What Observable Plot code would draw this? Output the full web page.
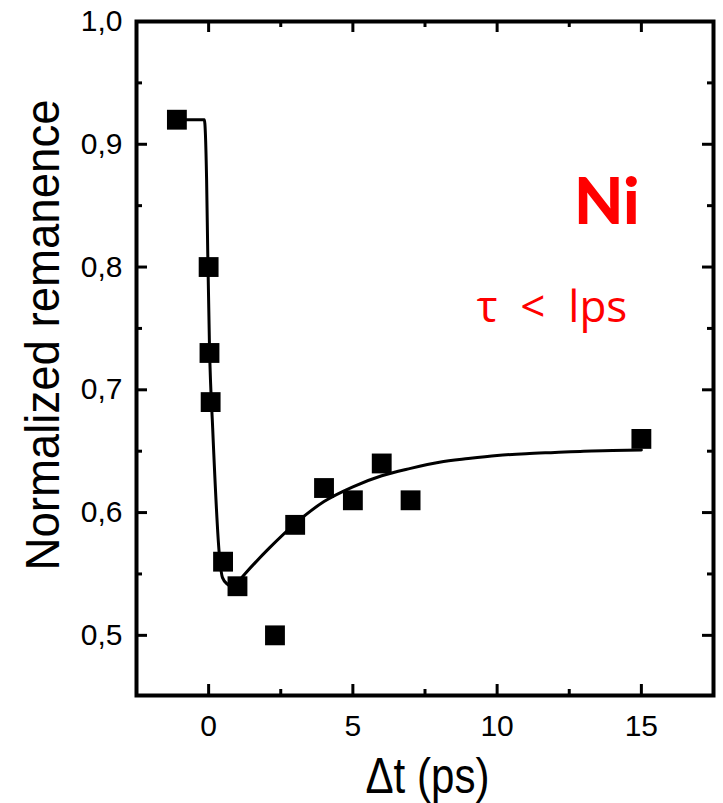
<!DOCTYPE html>
<html>
<head>
<meta charset="utf-8">
<script src="https://cdn.jsdelivr.net/npm/d3@7"></script>
<script src="https://cdn.jsdelivr.net/npm/@observablehq/plot@0.6"></script>
<style>
  html, body { margin: 0; padding: 0; background: #fff; }
  #chart svg { display: block; }
</style>
</head>
<body>
<div id="chart"></div>
<script>
// Measured data points (Δt in ps, normalized remanence)
const pointX = [-1.1, 0.0, 0.03, 0.07, 0.5, 1.0, 2.3, 3.0, 4.0, 5.0, 6.0, 7.0, 15.0];
const pointY = [0.92, 0.80, 0.73, 0.69, 0.56, 0.54, 0.50, 0.59, 0.62, 0.61, 0.64, 0.61, 0.66];

// Fitted curve
const fitX = [-1.1, -0.15, -0.07, -0.03, 0.03, 0.14, 0.38, 0.48, 0.66, 0.85, 1.18, 2.1, 3.0, 4.0, 5.0, 6.0, 7.0, 8.0, 9.0, 10.0, 11.0, 12.0, 13.0, 14.0, 15.0];
const fitY = [0.92, 0.92, 0.871, 0.811, 0.735, 0.669, 0.5635, 0.547, 0.5415, 0.539, 0.548, 0.571, 0.591, 0.609, 0.621, 0.630, 0.636, 0.641, 0.644, 0.6465, 0.648, 0.649, 0.650, 0.6505, 0.651];

// Axis ticks
const xMajor = [0, 5, 10, 15];
const xMinor = [2.5, 7.5, 12.5];
const yMajor = [0.5, 0.6, 0.7, 0.8, 0.9, 1.0];
const yMinor = [0.55, 0.65, 0.75, 0.85, 0.95];

// Labels
const xTitle = "Δt (ps)";
const yTitle = "Normalized remanence";
const annoText = ["Ni", "τ  <  lps"];
const annoX = [13.8, 9.29];
const annoY = [0.835, 0.755];

const points = pointX.map((x, i) => ({x, y: pointY[i]}));
const fit = fitX.map((x, i) => ({x, y: fitY[i]}));

const W = 723, H = 803;
const mL = 136, mR = 10, mT = 21, mB = 108;
const pw = W - mL - mR, ph = H - mT - mB;
const major = 11, minor = 6;

const chart = Plot.plot({
  width: W, height: H,
  marginLeft: mL, marginRight: mR, marginTop: mT, marginBottom: mB,
  style: {fontFamily: "'Liberation Sans', Arial, sans-serif", fontSize: "30px", color: "#000", background: "#fff"},
  x: {domain: [-2.5, 17.5]},
  y: {domain: [0.451, 1.0]},
  marks: [
    Plot.axisX({ticks: xMajor, tickSize: 0, tickPadding: 19, tickFormat: d => String(d), label: null, fontSize: 30}),
    Plot.axisY({ticks: yMajor, tickSize: 0, tickPadding: 14, tickFormat: d => d.toFixed(1).replace(".", ","), label: null, fontSize: 30}),
    // inward ticks on all four sides
    Plot.tickX(xMajor, {x: d => d, insetTop: ph - major, stroke: "#000", strokeWidth: 3}),
    Plot.tickX(xMajor, {x: d => d, insetBottom: ph - major, stroke: "#000", strokeWidth: 3}),
    Plot.tickX(xMinor, {x: d => d, insetTop: ph - minor, stroke: "#000", strokeWidth: 3}),
    Plot.tickX(xMinor, {x: d => d, insetBottom: ph - minor, stroke: "#000", strokeWidth: 3}),
    Plot.tickY(yMajor, {y: d => d, insetRight: pw - major, stroke: "#000", strokeWidth: 3}),
    Plot.tickY(yMajor, {y: d => d, insetLeft: pw - major, stroke: "#000", strokeWidth: 3}),
    Plot.tickY(yMinor, {y: d => d, insetRight: pw - minor, stroke: "#000", strokeWidth: 3}),
    Plot.tickY(yMinor, {y: d => d, insetLeft: pw - minor, stroke: "#000", strokeWidth: 3}),
    Plot.frame({stroke: "#000", strokeWidth: 4}),
    Plot.line(fit, {x: "x", y: "y", curve: "monotone-x", stroke: "#000", strokeWidth: 3}),
    Plot.dot(points, {x: "x", y: "y", symbol: "square", r: 11.2, fill: "#000", stroke: "none"}),
    Plot.text([annoText[0]], {x: [annoX[0]], y: [annoY[0]], text: d => d, fill: "#ff0000", fontSize: 64, fontWeight: 900, fontFamily: "Lato, 'Open Sans', sans-serif", textAnchor: "middle", lineAnchor: "bottom"}),
    Plot.text([annoText[1]], {x: [annoX[1]], y: [annoY[1]], text: d => d, fill: "#ff0000", fontSize: 44, fontFamily: "'Open Sans', sans-serif", textAnchor: "start", lineAnchor: "bottom"}),
    Plot.text([yTitle], {frameAnchor: "left", text: d => d, rotate: -90, dx: -78, dy: -23.5, textAnchor: "middle", lineAnchor: "bottom", fontSize: 48, fill: "#000", className: "ytitle"}),
    Plot.text([xTitle], {frameAnchor: "bottom", text: d => d, dx: 2.5, dy: 97, textAnchor: "middle", lineAnchor: "bottom", fontSize: 50, fill: "#000", className: "xtitle"})
  ]
});

document.getElementById("chart").appendChild(chart);
// Compress axis titles to the widths seen in the reference
d3.select(chart).selectAll(".ytitle text").attr("textLength", 471).attr("lengthAdjust", "spacingAndGlyphs");
d3.select(chart).selectAll(".xtitle text").attr("textLength", 124).attr("lengthAdjust", "spacingAndGlyphs");
</script>
</body>
</html>
